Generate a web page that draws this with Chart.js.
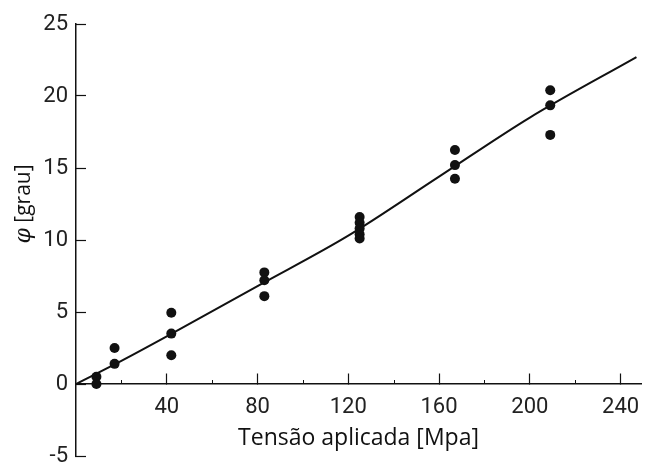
<!DOCTYPE html>
<html>
<head>
<meta charset="utf-8">
<script src="https://cdn.jsdelivr.net/npm/chart.js@4.4.1/dist/chart.umd.min.js"></script>
<style>
  html, body { margin: 0; padding: 0; background: #fff; }
  #wrap { width: 646px; height: 466px; }
</style>
</head>
<body>
<div id="wrap"><canvas id="chart"></canvas></div>
<script>
// measured points (applied stress in MPa, angle in degrees)
const pointStress = [9, 9, 17, 17, 42, 42, 42, 83, 83, 83, 125, 125, 125, 125, 125, 167, 167, 167, 209, 209, 209];
const pointAngle  = [0.5, 0, 2.5, 1.4, 4.95, 3.5, 2.0, 7.75, 7.2, 6.1, 11.6, 11.2, 10.8, 10.4, 10.1, 16.25, 15.2, 14.25, 20.4, 19.35, 17.3];

// fitted curve
const fitStress = [0, 20, 40, 80, 120, 160, 200, 247];
const fitAngle  = [0, 1.6, 3.3, 6.8, 10.3, 14.4, 18.5, 22.7];

const xTicks = [40, 80, 120, 160, 200, 240];
const xMinorTicks = [20, 60, 100, 140, 180, 220];
const yTicks = [-5, 0, 5, 10, 15, 20, 25];

const ink = '#111';
const tickFont = { family: '"Liberation Sans Narrow", Roboto, sans-serif', size: 22, lineHeight: 1 };

// y title drawn by hand so it can sit centred on 0..25 like the original
const yTitle = {
  id: 'yTitle',
  afterDraw(chart) {
    const ctx = chart.ctx;
    const y = chart.scales.y;
    const phi = '\u03c6';
    const rest = ' [grau]';
    ctx.save();
    ctx.translate(24, y.getPixelForValue(12.5));
    ctx.rotate(-Math.PI / 2);
    ctx.fillStyle = ink;
    ctx.textBaseline = 'middle';
    ctx.font = 'italic 22px "DejaVu Serif"';
    const w1 = ctx.measureText(phi).width;
    ctx.font = '21px "Open Sans"';
    const w2 = ctx.measureText(rest).width;
    const start = -(w1 + w2) / 2;
    ctx.textAlign = 'left';
    ctx.font = 'italic 22px "DejaVu Serif"';
    ctx.fillText(phi, start, 0);
    ctx.font = '21px "Open Sans"';
    ctx.fillText(rest, start + w1, 0);
    ctx.restore();
  }
};

// short minor ticks between the labelled ones
const minorTicks = {
  id: 'minorTicks',
  afterDraw(chart) {
    const ctx = chart.ctx;
    const x = chart.scales.x;
    const y0 = chart.scales.y.getPixelForValue(0);
    ctx.save();
    ctx.strokeStyle = ink;
    ctx.lineWidth = 1;
    xMinorTicks.forEach(v => {
      const px = Math.round(x.getPixelForValue(v)) + 0.5;
      ctx.beginPath();
      ctx.moveTo(px, y0);
      ctx.lineTo(px, y0 - 4);
      ctx.stroke();
    });
    ctx.restore();
  }
};

new Chart(document.getElementById('chart'), {
  type: 'scatter',
  data: {
    datasets: [
      {
        type: 'line',
        data: fitStress.map((s, i) => ({ x: s, y: fitAngle[i] })),
        borderColor: ink,
        borderWidth: 2,
        pointRadius: 0,
        cubicInterpolationMode: 'monotone',
        fill: false
      },
      {
        data: pointStress.map((s, i) => ({ x: s, y: pointAngle[i] })),
        backgroundColor: ink,
        borderColor: ink,
        pointRadius: 5,
        borderWidth: 0
      }
    ]
  },
  options: {
    responsive: true,
    maintainAspectRatio: false,
    animation: false,
    layout: { padding: { left: 0, right: 0, top: 24, bottom: 10 } },
    plugins: {
      legend: { display: false },
      tooltip: { enabled: false }
    },
    scales: {
      x: {
        type: 'linear',
        min: 0,
        max: 249,
        position: { y: 0 },
        border: { color: ink, width: 1.5 },
        grid: { drawOnChartArea: false, tickLength: -11, color: ink, tickWidth: 1.2 },
        afterBuildTicks: axis => { axis.ticks = xTicks.map(v => ({ value: v })); },
        afterFit: axis => { axis.paddingLeft = 0; axis.paddingRight = 0; },
        ticks: {
          padding: 23,
          color: '#222',
          font: tickFont,
          maxRotation: 0,
          autoSkip: false
        },
        title: {
          display: true,
          text: 'Tensão aplicada [Mpa]',
          color: ink,
          font: { family: 'Open Sans', size: 23 },
          padding: { top: -16, bottom: 0 }
        }
      },
      y: {
        min: -5,
        max: 25,
        position: 'left',
        border: { color: ink, width: 1.5 },
        grid: { drawOnChartArea: false, tickLength: -10, color: ink, tickWidth: 1.2 },
        afterBuildTicks: axis => { axis.ticks = yTicks.map(v => ({ value: v })); },
        afterFit: axis => { axis.width = 76; axis.paddingTop = 0; axis.paddingBottom = 0; },
        ticks: {
          padding: 18,
          color: '#222',
          font: tickFont
        }
      }
    }
  },
  plugins: [yTitle, minorTicks]
});
</script>
</body>
</html>
